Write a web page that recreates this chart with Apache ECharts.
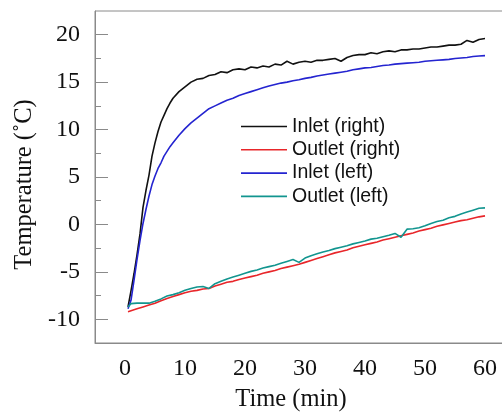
<!DOCTYPE html>
<html>
<head>
<meta charset="utf-8">
<script src="https://cdn.jsdelivr.net/npm/echarts@6/dist/echarts.min.js"></script>
<style>html,body{margin:0;padding:0;background:#fff}#c{width:502px;height:412px}</style>
</head>
<body>
<div id="c"></div>
<script>
// Time (min) for the fast-rising inlet curves
const timeFast = [0.5,1,1.5,2,2.5,3,3.5,4,4.5,5,5.5,6,6.5,7,7.5,8,
  9,10,11,12,13,14,15,16,17,18,19,20,21,22,23,24,25,26,27,28,29,30,
  31,32,33,34,35,36,37,38,39,40,41,42,43,44,45,46,47,48,49,50,
  51,52,53,54,55,56,57,58,59,60];
// Time (min) for the outlet curves
const timeSlow = [0.5,1,2,3,4,5,6,7,8,9,10,11,12,13,14,15,16,17,18,19,20,
  21,22,23,24,25,26,27,28,29,30,31,32,33,34,35,36,37,38,39,40,
  41,42,43,44,45,46,47,48,49,50,51,52,53,54,55,56,57,58,59,60];

const inletRight = [-8.7,-7.0,-5.2,-3.2,-1.0,1.8,3.6,5.2,7.2,8.6,9.8,10.8,11.5,12.2,12.8,13.3,
  14.0,14.5,15.0,15.3,15.4,15.7,15.8,16.1,16.0,16.3,16.4,16.3,16.6,16.5,16.7,16.6,16.9,16.8,17.2,16.9,17.1,17.2,
  17.1,17.3,17.3,17.4,17.5,17.2,17.6,17.8,17.9,17.9,18.1,18.0,18.2,18.3,18.2,18.4,18.4,18.5,18.5,18.6,
  18.7,18.7,18.8,18.9,18.9,19.0,19.4,19.2,19.5,19.6];

const inletLeft = [-8.9,-8.0,-5.9,-3.7,-1.7,0.1,1.6,3.0,4.2,5.1,5.9,6.5,7.2,7.7,8.2,8.6,
  9.4,10.1,10.7,11.2,11.7,12.2,12.5,12.8,13.1,13.3,13.6,13.8,14.0,14.2,14.4,14.6,14.75,14.9,15.0,15.15,15.25,15.4,
  15.5,15.65,15.75,15.85,15.95,16.05,16.15,16.3,16.4,16.5,16.55,16.65,16.75,16.8,16.9,16.95,17.0,17.05,17.1,17.2,
  17.25,17.3,17.35,17.4,17.5,17.55,17.6,17.7,17.75,17.8];

const outletRight = [-9.2,-9.1,-8.9,-8.7,-8.5,-8.3,-8.05,-7.8,-7.6,-7.4,-7.2,-7.05,-6.95,-6.8,-6.75,-6.5,-6.3,-6.1,-6.0,-5.8,-5.65,
  -5.5,-5.35,-5.15,-5.0,-4.85,-4.65,-4.5,-4.35,-4.2,-4.0,-3.8,-3.6,-3.4,-3.2,-3.0,-2.85,-2.7,-2.45,-2.3,-2.15,
  -2.0,-1.85,-1.65,-1.5,-1.35,-1.2,-1.05,-0.9,-0.7,-0.55,-0.4,-0.2,-0.05,0.1,0.25,0.4,0.5,0.65,0.8,0.9];

const outletLeft = [-8.7,-8.35,-8.3,-8.3,-8.3,-8.1,-7.85,-7.55,-7.4,-7.2,-6.95,-6.75,-6.6,-6.55,-6.75,-6.25,-6.0,-5.75,-5.55,-5.35,-5.15,
  -4.95,-4.8,-4.6,-4.45,-4.3,-4.1,-3.9,-3.7,-4.0,-3.55,-3.3,-3.1,-2.9,-2.75,-2.55,-2.4,-2.25,-2.05,-1.9,-1.75,
  -1.55,-1.45,-1.3,-1.15,-0.95,-1.35,-0.5,-0.45,-0.35,-0.15,0.1,0.3,0.45,0.7,0.85,1.1,1.3,1.5,1.7,1.75];

const seriesNames = ['Inlet (right)','Outlet (right)','Inlet (left)','Outlet (left)'];
const seriesColors = ['#111111','#e8262a','#2424d0','#12958f'];
const yMajorTicks = [-10,-5,0,5,10,15,20];
const yMinorTicks = [-7.5,-2.5,2.5,7.5,12.5,17.5];
const xTicks = [0,10,20,30,40,50,60];

const pair = (ts, vs) => ts.map((t, i) => [t, vs[i]]);
const seriesData = [pair(timeFast, inletRight), pair(timeSlow, outletRight), pair(timeFast, inletLeft), pair(timeSlow, outletLeft)];

const serif = "'Liberation Serif','Times New Roman',serif";
const sans = "'Liberation Sans',Arial,sans-serif";
const axisGray = '#8a8a8a';

const chart = echarts.init(document.getElementById('c'), null, {renderer: 'canvas'});
chart.setOption({
  animation: false,
  backgroundColor: '#ffffff',
  grid: {left: 95, top: 11, right: -13, bottom: 69, outerBoundsMode: 'none', containLabel: false,
    show: true, borderColor: axisGray, borderWidth: 1, backgroundColor: 'transparent'},
  legend: {
    orient: 'vertical', left: 241, top: 116.5, padding: 0,
    icon: 'rect', itemWidth: 46, itemHeight: 1.6, itemGap: 3.3,
    textStyle: {fontFamily: sans, fontSize: 19.5, color: '#111', lineHeight: 20},
    data: seriesNames
  },
  xAxis: {
    type: 'value', min: -5, max: 65,
    name: 'Time (min)', nameLocation: 'middle', nameGap: 44,
    nameTextStyle: {fontFamily: serif, fontSize: 24.5, color: '#111', padding: [0, 28, 0, 0]},
    axisLine: {show: true, onZero: false, lineStyle: {color: axisGray, width: 1}},
    axisTick: {show: false},
    axisLabel: {customValues: xTicks, fontFamily: serif, fontSize: 24, color: '#111', margin: 14},
    splitLine: {show: false}
  },
  yAxis: [{
    type: 'value', min: -12.5, max: 22.5,
    name: 'Temperature (˚C)', nameLocation: 'middle', nameGap: 57,
    nameTextStyle: {fontFamily: serif, fontSize: 24.5, color: '#111', padding: [0, 15, 0, 0]},
    axisLine: {show: true, onZero: false, lineStyle: {color: axisGray, width: 1}},
    axisTick: {show: true, inside: true, length: 13, customValues: yMajorTicks, lineStyle: {color: axisGray}},
    axisLabel: {customValues: yMajorTicks, fontFamily: serif, fontSize: 24, color: '#111', margin: 15},
    splitLine: {show: false}
  }, {
    type: 'value', min: -12.5, max: 22.5, position: 'left', offset: 0,
    axisLine: {show: false, onZero: false},
    axisTick: {show: true, inside: true, length: 6, customValues: yMinorTicks, lineStyle: {color: axisGray}},
    axisLabel: {show: false},
    splitLine: {show: false}
  }],
  series: seriesNames.map((n, i) => ({
    name: n, type: 'line', yAxisIndex: 0, symbol: 'none', smooth: false,
    data: seriesData[i],
    lineStyle: {color: seriesColors[i], width: 1.6},
    itemStyle: {color: seriesColors[i]}
  }))
});
</script>
</body>
</html>
